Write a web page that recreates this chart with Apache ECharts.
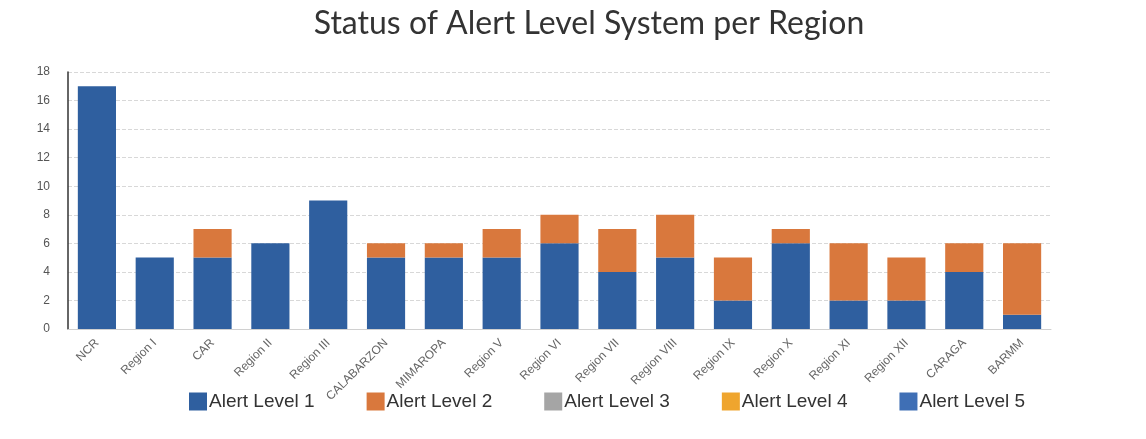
<!DOCTYPE html>
<html><head><meta charset="utf-8">
<script src="https://cdn.jsdelivr.net/npm/echarts@6/dist/echarts.min.js"></script>
<style>html,body{margin:0;padding:0;background:#fff}#c{width:1146px;height:439px}</style>
</head><body><div id="c"></div>
<script>
const categories = ["NCR","Region I","CAR","Region II","Region III","CALABARZON","MIMAROPA","Region V","Region VI","Region VII","Region VIII","Region IX","Region X","Region XI","Region XII","CARAGA","BARMM"];
const alertLevel1 = [17,5,5,6,9,5,5,5,6,4,5,2,6,2,2,4,1];
const alertLevel2 = [0,0,2,0,0,1,1,2,2,3,3,3,1,4,3,2,5];
const alertLevel3 = [0,0,0,0,0,0,0,0,0,0,0,0,0,0,0,0,0];
const alertLevel4 = [0,0,0,0,0,0,0,0,0,0,0,0,0,0,0,0,0];
const alertLevel5 = [0,0,0,0,0,0,0,0,0,0,0,0,0,0,0,0,0];
const yTicks = [0,2,4,6,8,10,12,14,16,18];

const chart = echarts.init(document.getElementById('c'));
const mk = (name, data, color) => ({name, type:'bar', stack:'a', data, barWidth:'66%', itemStyle:{color}});
chart.setOption({
  animation:false,
  title:{text:'Status of Alert Level System per Region', top:3, left:584, textAlign:'center',
    textStyle:{fontFamily:'Lato', fontSize:32, fontWeight:'normal', color:'#333'}},
  grid:{left:68, right:95, top:72, bottom:110},
  legend:{bottom:23, left:184, itemWidth:18, itemHeight:18, itemGap:52, icon:'rect',
    textStyle:{fontFamily:'Liberation Sans', fontSize:19, color:'#333', padding:[0,0,0,-3]}},
  xAxis:{type:'category', data:categories,
    axisLine:{lineStyle:{color:'#d0d0d0'}}, axisTick:{show:false},
    axisLabel:{rotate:45, fontFamily:'Liberation Sans', fontSize:12, color:'#666', margin:12, interval:0}},
  yAxis:{type:'value', min:0, max:18, interval:2,
    axisLine:{show:true, lineStyle:{color:'#333', width:1.5}}, axisTick:{show:false},
    axisLabel:{fontFamily:'Liberation Sans', fontSize:12, color:'#555', margin:18,
      formatter:v=>yTicks.includes(v)?String(v):''},
    splitLine:{lineStyle:{color:'#d8d8d8', type:'dashed'}}},
  series:[
    mk('Alert Level 1', alertLevel1, '#2f5f9f'),
    mk('Alert Level 2', alertLevel2, '#d9783d'),
    mk('Alert Level 3', alertLevel3, '#a5a5a5'),
    mk('Alert Level 4', alertLevel4, '#efa52e'),
    mk('Alert Level 5', alertLevel5, '#3f6fb5')
  ]
});
</script></body></html>
